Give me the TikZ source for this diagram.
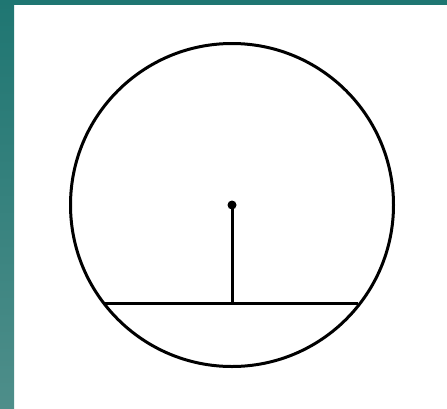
\documentclass[tikz,border=0pt]{standalone}
\definecolor{tealtop}{HTML}{1F7672}
\definecolor{tealbot}{HTML}{4E8E8A}
\tikzset{geo/.style={line width=3pt, black}}
\begin{document}
\begin{tikzpicture}[x=1pt,y=-1pt]
\useasboundingbox (0,0) rectangle (447,408);
\fill[white] (0,0) rectangle (447,408);
\shade[top color=tealtop, bottom color=tealbot] (0,0) rectangle (14,408);
\fill[tealtop] (0,0) rectangle (447,5);
\coordinate (O) at (232,205);
\coordinate (F) at (232,303);
\coordinate (A) at (103.5,303);
\coordinate (B) at (358,303);
\draw[geo] (O) circle (161.5);
\draw[geo] (A) -- (B);
\draw[geo] (O) -- (F);
\fill (O) circle (4.5);
\end{tikzpicture}
\end{document}
